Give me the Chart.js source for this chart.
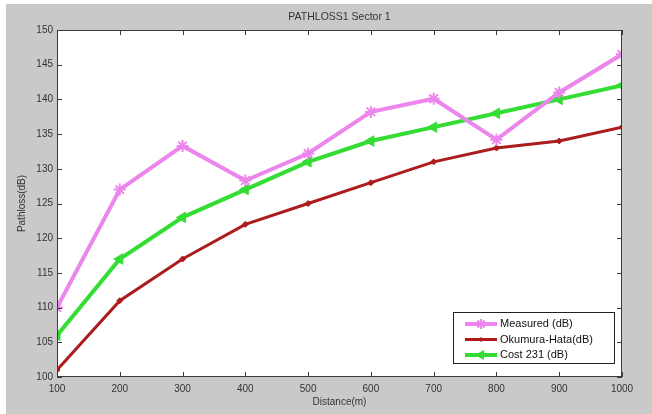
<!DOCTYPE html>
<html>
<head>
<meta charset="utf-8">
<script src="https://cdn.jsdelivr.net/npm/chart.js@4.4.1/dist/chart.umd.min.js"></script>
<style>
  html, body { margin: 0; padding: 0; background: #fff; }
  #wrap { width: 652px; height: 414px; }
</style>
</head>
<body>
<div id="wrap"><canvas id="canvas" width="652" height="414"></canvas></div>
<script>
  // values
  const distances = [100, 200, 300, 400, 500, 600, 700, 800, 900, 1000];
  const measured = [110, 127, 133.3, 128.3, 132.2, 138.2, 140.1, 134.2, 141, 146.5];
  const okumura = [101, 111, 117, 122, 125, 128, 131, 133, 134, 136];
  const cost231 = [106, 117, 123, 127, 131, 134, 136, 138, 140, 142];
  const seriesNames = ['Measured (dB)', 'Okumura-Hata(dB)', 'Cost 231 (dB)'];
  const chartTitle = 'PATHLOSS1 Sector 1';

  const FIG_GRAY = '#c9c9c9';
  const AXIS_COL = '#3a3a3a';
  const TXT_COL = '#333333';
  const FONT = 'Arial, "Liberation Sans", sans-serif';

  function pts(ys) {
    return distances.map((d, i) => ({ x: d, y: ys[i] }));
  }

  // MATLAB-ish frame: grey figure, white axes box, ticks pointing inward
  const frame = {
    id: 'frame',
    beforeDraw(chart) {
      const ctx = chart.ctx, a = chart.chartArea;
      ctx.save();
      ctx.fillStyle = FIG_GRAY;
      ctx.fillRect(6, 4, chart.width - 6, chart.height - 4);
      ctx.fillStyle = '#fff';
      ctx.fillRect(a.left, a.top, a.right - a.left, a.bottom - a.top);
      // title centred over the axes box
      ctx.fillStyle = TXT_COL;
      ctx.font = '10.5px ' + FONT;
      ctx.textAlign = 'center';
      ctx.textBaseline = 'middle';
      ctx.fillText(chartTitle, (a.left + a.right) / 2, 17);
      ctx.restore();
    },
    afterDraw(chart) {
      const ctx = chart.ctx, a = chart.chartArea;
      const xs = chart.scales.x, ys = chart.scales.y;
      ctx.save();
      ctx.strokeStyle = AXIS_COL;
      ctx.lineWidth = 1;
      ctx.strokeRect(a.left + 0.5, a.top + 0.5, a.right - a.left - 1, a.bottom - a.top - 1);
      ctx.beginPath();
      xs.ticks.forEach(t => {
        const px = Math.round(xs.getPixelForValue(t.value)) + 0.5;
        ctx.moveTo(px, a.bottom); ctx.lineTo(px, a.bottom - 5);
        ctx.moveTo(px, a.top); ctx.lineTo(px, a.top + 5);
      });
      ys.ticks.forEach(t => {
        const py = Math.round(ys.getPixelForValue(t.value)) + 0.5;
        ctx.moveTo(a.left, py); ctx.lineTo(a.left + 5, py);
        ctx.moveTo(a.right, py); ctx.lineTo(a.right - 5, py);
      });
      ctx.stroke();

      // legend box, lower right inside the axes
      const bx = 453, by = 312, bw = 161, bh = 51;
      ctx.fillStyle = '#fff';
      ctx.fillRect(bx, by, bw, bh);
      ctx.strokeStyle = '#222';
      ctx.strokeRect(bx + 0.5, by + 0.5, bw, bh);
      ctx.font = '11px ' + FONT;
      ctx.textAlign = 'left';
      ctx.textBaseline = 'middle';
      chart.data.datasets.forEach((ds, i) => {
        const y = by + 12 + i * 15.5;
        ctx.strokeStyle = ds.borderColor;
        ctx.lineWidth = ds.borderWidth;
        ctx.beginPath();
        ctx.moveTo(bx + 12, y); ctx.lineTo(bx + 44, y);
        ctx.stroke();
        ctx.fillStyle = ds.backgroundColor;
        ctx.lineWidth = ds.pointBorderWidth;
        Chart.helpers.drawPoint(ctx, {
          pointStyle: ds.pointStyle, rotation: ds.pointRotation || 0,
          radius: ds.pointRadius - 1, borderWidth: ds.pointBorderWidth
        }, bx + 28, y);
        ctx.fillStyle = '#111';
        ctx.fillText(ds.label, bx + 47, y);
      });
      ctx.restore();
    }
  };

  const data = {
    datasets: [{
      label: seriesNames[0],
      data: pts(measured),
      borderColor: '#ec86ec',
      backgroundColor: '#ec86ec',
      borderWidth: 4,
      pointStyle: 'star',
      pointRadius: 6,
      pointBorderWidth: 2
    }, {
      label: seriesNames[1],
      data: pts(okumura),
      borderColor: '#ac1c1c',
      backgroundColor: '#ac1c1c',
      borderWidth: 3,
      pointStyle: 'rectRot',
      pointRadius: 3,
      pointBorderWidth: 1
    }, {
      label: seriesNames[2],
      data: pts(cost231),
      borderColor: '#33dd33',
      backgroundColor: '#33dd33',
      borderWidth: 4,
      pointStyle: 'triangle',
      pointRotation: -90,
      pointRadius: 6,
      pointBorderWidth: 1
    }]
  };

  const config = {
    type: 'line',
    data: data,
    plugins: [frame],
    options: {
      responsive: false,
      animation: false,
      layout: { padding: { left: 0, right: 30, top: 30, bottom: 0 } },
      plugins: {
        legend: { display: false },
        tooltip: { enabled: false },
        title: { display: false }
      },
      scales: {
        x: {
          type: 'linear',
          min: 100, max: 1000,
          grid: { display: false, drawTicks: false },
          border: { display: false },
          ticks: { stepSize: 100, color: TXT_COL, padding: 6, maxRotation: 0,
                   font: { family: FONT, size: 10 },
                   callback: v => String(v) },
          title: { display: true, text: 'Distance(m)', color: TXT_COL, padding: { top: 0, bottom: 6 },
                   font: { family: FONT, size: 10 } },
          afterFit: s => { s.height = 37; }
        },
        y: {
          min: 100, max: 150,
          grid: { display: false, drawTicks: false },
          border: { display: false },
          ticks: { stepSize: 5, color: TXT_COL, padding: 4,
                   font: { family: FONT, size: 10 } },
          title: { display: true, text: 'Pathloss(dB)', color: TXT_COL, padding: { top: 16, bottom: 0 },
                   font: { family: FONT, size: 10 } },
          afterFit: s => { s.width = 57; }
        }
      }
    }
  };

  const canvas = document.getElementById('canvas');
  const chart = new Chart(canvas, config);
</script>
</body>
</html>
